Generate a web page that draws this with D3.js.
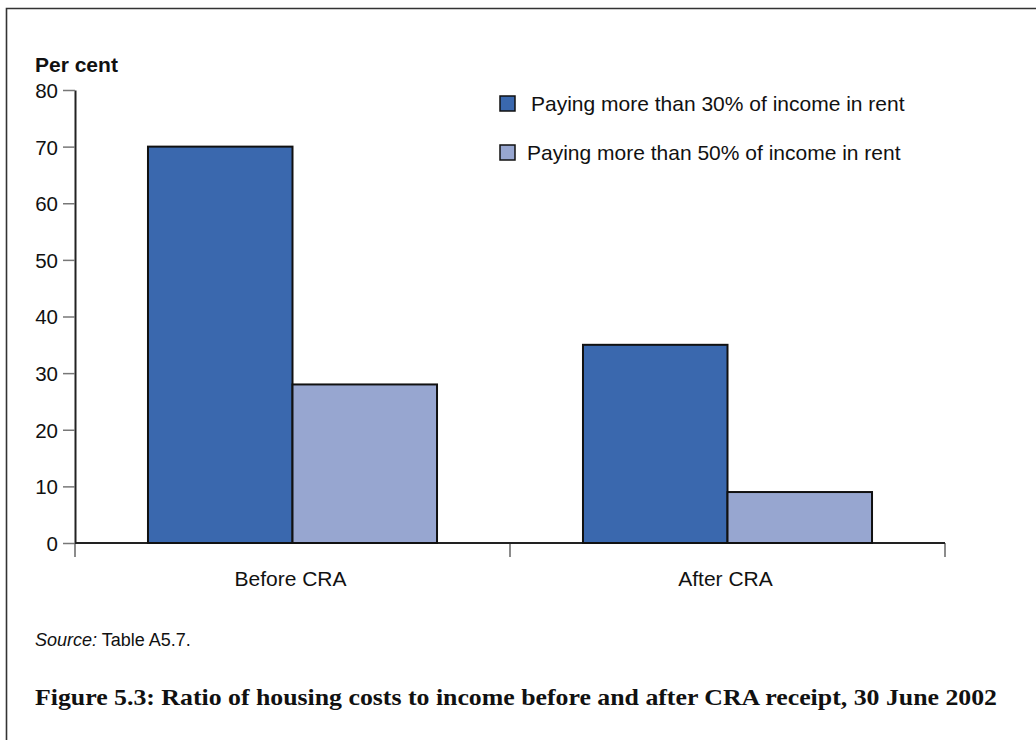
<!DOCTYPE html>
<html>
<head>
<meta charset="utf-8">
<script src="https://cdn.jsdelivr.net/npm/d3@7"></script>
<style>
  html, body { margin: 0; padding: 0; background: #fff; }
  svg { display: block; }
</style>
</head>
<body>
<svg id="chart" width="1036" height="740" font-family="Liberation Sans, Arial, sans-serif"></svg>
<script>
// Chart data
const categories = ["Before CRA", "After CRA"];
const seriesNames = [
  "Paying more than 30% of income in rent",
  "Paying more than 50% of income in rent"
];
const over30 = [70, 35];
const over50 = [28, 9];
const yTicks = [0, 10, 20, 30, 40, 50, 60, 70, 80];
const colors = ["#3a68ae", "#97a6d0"];

const sans = "Liberation Sans, Arial, sans-serif";
const svg = d3.select("#chart");

// Frame (top and left edges)
svg.append("path")
  .attr("d", "M6.5,740 V8.5 H1036")
  .attr("fill", "none")
  .attr("stroke", "#333")
  .attr("stroke-width", 1.6);

const x0 = 75, x1 = 945, yBase = 543, yTop = 90;

const x = d3.scaleBand().domain(categories).range([x0, x1]).padding(0);
const xs = d3.scaleBand().domain(seriesNames).range([0, x.bandwidth()])
  .paddingInner(0).paddingOuter(0.505);
const y = d3.scaleLinear().domain([0, 80]).range([yBase, yTop]);

// Y axis
const yAxis = svg.append("g")
  .attr("transform", `translate(${x0},0)`)
  .call(d3.axisLeft(y).tickValues(yTicks).tickSize(12).tickPadding(5).tickSizeOuter(0));
yAxis.attr("font-family", sans).attr("font-size", 20.5);
yAxis.select(".domain").attr("stroke", "#222").attr("stroke-width", 2);
yAxis.selectAll(".tick line").attr("stroke", "#777").attr("stroke-width", 1.5);
yAxis.selectAll(".tick text").attr("fill", "#111").attr("dy", "0.36em");

// X axis: ticks at band boundaries
const xAxis = svg.append("g")
  .attr("transform", `translate(0,${yBase})`);
const boundaries = [x0, ...categories.map(c => x(c) + x.bandwidth())];
xAxis.selectAll("line.b")
  .data(boundaries)
  .join("line")
  .attr("x1", d => d).attr("x2", d => d)
  .attr("y1", 0).attr("y2", 14)
  .attr("stroke", "#666").attr("stroke-width", 1.5);

// Bars
const rows = categories.map((c, i) => ({ cat: c, vals: [over30[i], over50[i]] }));
const groups = svg.append("g").selectAll("g")
  .data(rows)
  .join("g")
  .attr("transform", d => `translate(${x(d.cat)},0)`);
groups.selectAll("rect")
  .data(d => d.vals.map((v, j) => ({ v, s: seriesNames[j], j })))
  .join("rect")
  .attr("x", d => xs(d.s))
  .attr("y", d => y(d.v))
  .attr("width", xs.bandwidth())
  .attr("height", d => y(0) - y(d.v))
  .attr("fill", d => colors[d.j])
  .attr("stroke", "#111")
  .attr("stroke-width", 2);

// X baseline drawn on top of bars
xAxis.append("line")
  .attr("x1", x0).attr("x2", x1)
  .attr("y1", 0).attr("y2", 0)
  .attr("stroke", "#222").attr("stroke-width", 2);

// Category labels
svg.append("g").selectAll("text")
  .data(categories)
  .join("text")
  .attr("x", d => x(d) + x.bandwidth() / 2 - 2)
  .attr("y", 586)
  .attr("text-anchor", "middle")
  .attr("font-size", 21)
  .attr("fill", "#111")
  .text(d => d);

// Axis title
svg.append("text")
  .attr("x", 35).attr("y", 72)
  .attr("font-size", 21)
  .attr("font-weight", "bold")
  .attr("fill", "#111")
  .text("Per cent");

// Legend
const legend = svg.append("g").selectAll("g")
  .data(seriesNames)
  .join("g")
  .attr("transform", (d, i) => `translate(500,${96 + i * 49})`);
legend.append("rect")
  .attr("width", 15).attr("height", 15)
  .attr("fill", (d, i) => colors[i])
  .attr("stroke", "#111").attr("stroke-width", 1.5);
legend.append("text")
  .attr("x", (d, i) => i === 0 ? 31 : 27)
  .attr("y", 15)
  .attr("font-size", 21)
  .attr("fill", "#111")
  .text(d => d);

// Source note
const src = svg.append("text")
  .attr("x", 35).attr("y", 646)
  .attr("font-size", 18)
  .attr("fill", "#111");
src.append("tspan").attr("font-style", "italic").text("Source:");
src.append("tspan").text(" Table A5.7.");

// Figure caption
svg.append("text")
  .attr("x", 35).attr("y", 705)
  .attr("font-family", "Liberation Serif, DejaVu Serif, serif")
  .attr("font-size", 24)
  .attr("font-weight", "bold")
  .attr("fill", "#111")
  .attr("textLength", 962)
  .attr("lengthAdjust", "spacingAndGlyphs")
  .text("Figure 5.3: Ratio of housing costs to income before and after CRA receipt, 30 June 2002");
</script>
</body>
</html>
